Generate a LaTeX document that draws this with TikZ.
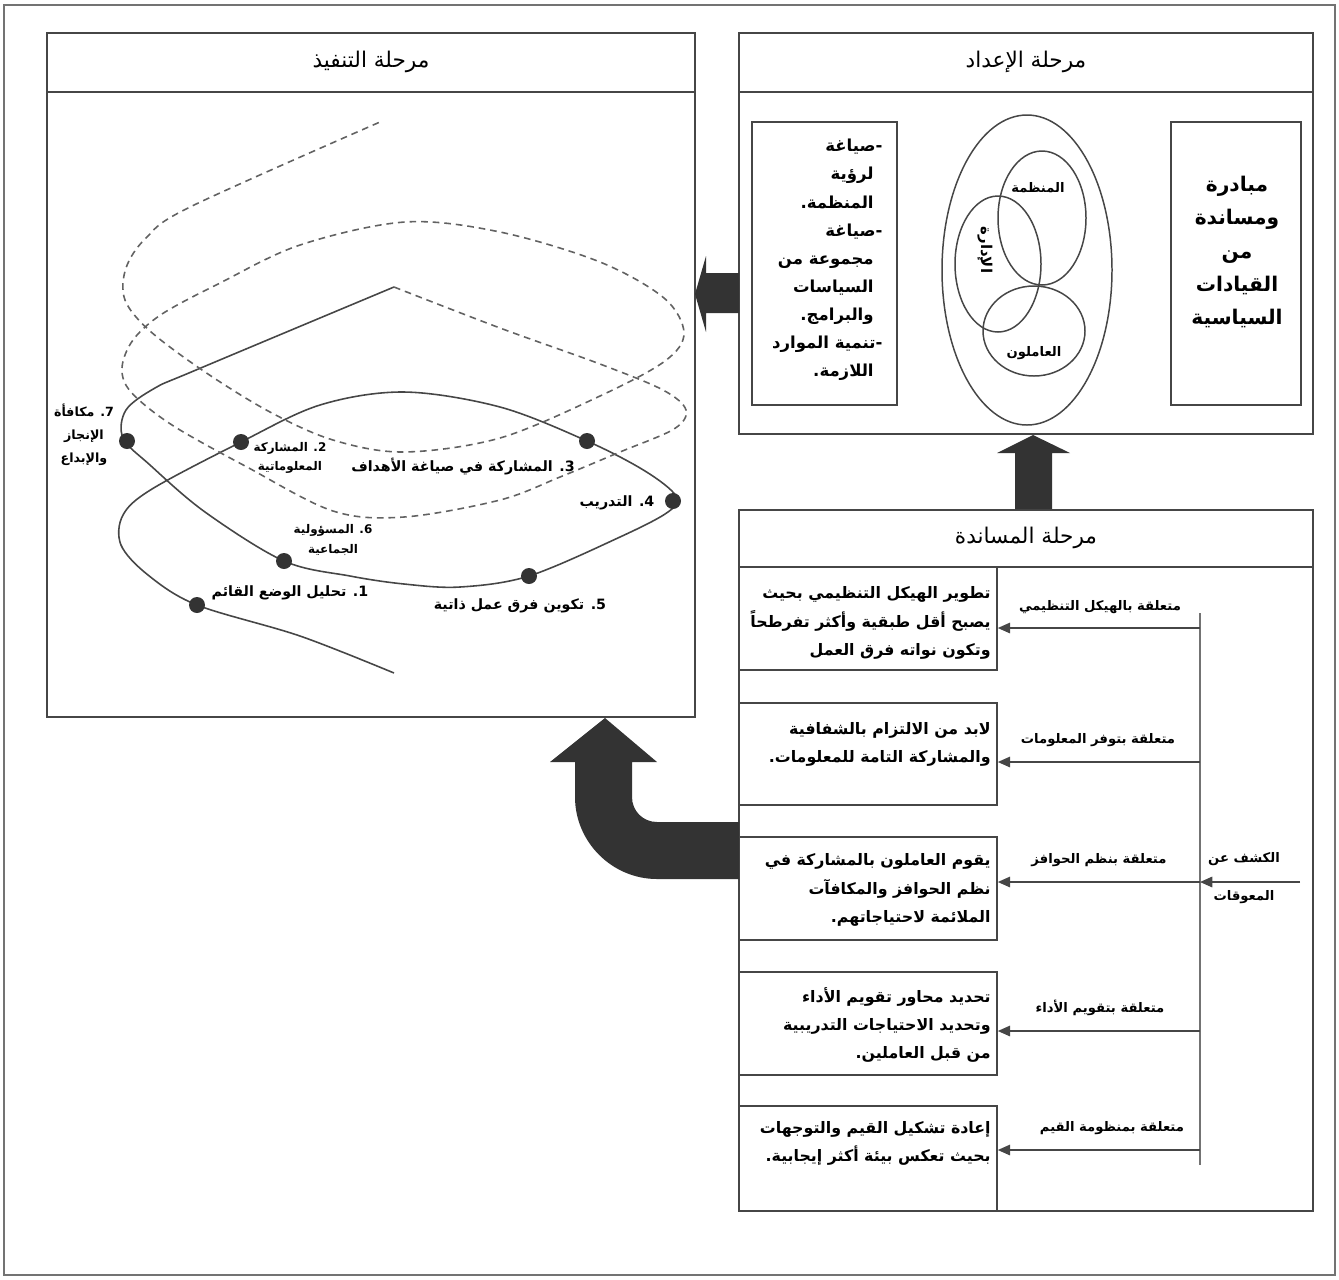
\documentclass[tikz,border=0pt]{standalone}
\usepackage{fontspec}
\TeXXeTstate=1
\newfontfamily\ar[Script=Arabic]{DejaVu Sans}
\usetikzlibrary{arrows.meta,fit}
\newcommand\RL[1]{\beginR #1\endR}
\definecolor{ln}{HTML}{464646}
\definecolor{fl}{HTML}{333333}
\begin{document}
\begin{tikzpicture}[x=0.02cm,y=-0.02cm,
  frame/.style={draw=ln, line width=0.9pt, inner sep=0pt},
  ttl/.style={font=\ar\fontsize{12.3}{14}\selectfont, inner sep=0pt},
  body/.style={font=\ar\bfseries\fontsize{9}{16}\selectfont, align=right, inner sep=0pt, anchor=east},
  rel/.style={font=\ar\bfseries\fontsize{7.5}{9}\selectfont, inner sep=0pt},
  lbl/.style={font=\ar\bfseries\fontsize{8.1}{10}\selectfont, inner sep=0pt, align=center},
  slbl/.style={font=\ar\bfseries\fontsize{6.8}{11}\selectfont, inner sep=0pt, align=center},
  dot/.style={circle, fill=fl, inner sep=0pt, minimum size=0.32cm},
  curve/.style={draw=ln, line width=0.9pt},
  dcurve/.style={draw=ln!85, line width=0.9pt, dash pattern=on 3.8pt off 2.8pt},
  conn/.style={draw=ln, line width=0.85pt},
  arr/.style={conn, -{Triangle[length=7pt,width=6pt]}},
  big/.style={fill=fl}
]
\useasboundingbox (0,0) rectangle (1339,1279);
\draw[draw=black!55, line width=0.6pt] (4,5) rectangle (1335,1275);

% ---------- execution phase ----------
\node[frame, fit={(47,33) (695,717)}] (exec) {};
\draw[frame] (exec.west |- 0,92) -- (exec.east |- 0,92);
\node[ttl] (execT) at (371,62) {\RL{مرحلة التنفيذ}};

% solid spiral
\draw[curve] plot[smooth, tension=0.55] coordinates {
 (394,673) (300,636) (197,605) (148,575) (121,545) (123,515) (152,489) (241,442)
 (320,405) (404,392) (500,407) (587,441) (645,471) (676,496) (668,512) (620,537)
 (529,576) (460,587) (404,584) (350,576) (284,561) (205,512) (150,465) (123,438)
 (126,410) (155,388) (196,370) (394,287)};
% dashed spiral
\draw[dcurve] plot[smooth, tension=0.55] coordinates {
 (394,287) (500,328) (600,364) (663,390) (686,410) (674,429) (620,452) (560,477)
 (500,500) (404,517) (333,511) (247,467) (172,425) (131,392) (122,368) (133,340)
 (162,314) (220,283) (300,245) (405,222) (500,232) (600,262) (664,298) (684,333)
 (665,361) (600,396) (500,438) (404,452) (333,440) (270,412) (205,372) (150,331)
 (125,300) (126,268) (146,238) (190,207) (380,122)};

\node[dot] (d1) at (197,605) {};
\node[dot] (d2) at (241,442) {};
\node[dot] (d3) at (587,441) {};
\node[dot] (d4) at (673,501) {};
\node[dot] (d5) at (529,576) {};
\node[dot] (d6) at (284,561) {};
\node[dot] (d7) at (127,441) {};

\node[lbl] (l1) at (290,593) {\RL{1. تحليل الوضع القائم}};
\node[slbl] (l2) at (290,458) {\RL{2. المشاركة}\\\RL{المعلوماتية}};
\node[lbl] (l3) at (463,467) {\RL{3. المشاركة في صياغة الأهداف}};
\node[lbl] (l4) at (617,503) {\RL{4. التدريب}};
\node[lbl] (l5) at (520,606) {\RL{5. تكوين فرق عمل ذاتية}};
\node[slbl] (l6) at (333,540) {\RL{6. المسؤولية}\\\RL{الجماعية}};
\node[lbl, font=\ar\bfseries\fontsize{7.2}{13}\selectfont] (l7) at (84,435) {\RL{7. مكافأة}\\\RL{الإنجاز}\\\RL{والإبداع}};

% ---------- preparation phase ----------
\node[frame, fit={(739,33) (1313,434)}] (prep) {};
\draw[frame] (prep.west |- 0,92) -- (prep.east |- 0,92);
\node[ttl] (prepT) at (1026,62) {\RL{مرحلة الإعداد}};
\node[frame, fit={(752,122) (897,405)}] (pl) {};
\node[frame, fit={(1171,122) (1301,405)}] (pr) {};
\node[body, font=\ar\bfseries\fontsize{9.4}{16}\selectfont] (plT) at (874,260) {%
 \RL{-صياغة}\kern-5pt\\\RL{لرؤية}\\\RL{المنظمة.}\\\RL{-صياغة}\kern-5pt\\\RL{مجموعة من}\\%
 \RL{السياسات}\\\RL{والبرامج.}\\\RL{-تنمية الموارد}\kern-5pt\\\RL{اللازمة.}};
\node[ttl, align=center, font=\ar\bfseries\fontsize{11.5}{19}\selectfont] (prT) at (1237,252) {%
 \RL{مبادرة}\\\RL{ومساندة}\\\RL{من}\\\RL{القيادات}\\\RL{السياسية}};
% Venn
\draw[conn] (1027,270) ellipse [x radius=85, y radius=155];
\draw[conn] (1042,218) ellipse [x radius=44, y radius=67];
\draw[conn] (998,264) ellipse [x radius=43, y radius=68];
\draw[conn] (1034,331) ellipse [x radius=51, y radius=45];
\node[rel] (vOrg) at (1038,188) {\RL{المنظمة}};
\node[rel] (vEmp) at (1034,353) {\RL{العاملون}};
\node[rel, rotate=-90, font=\ar\bfseries\fontsize{8.5}{10}\selectfont] (vAdm) at (985,250) {\RL{الإدارة}};

% ---------- support phase ----------
\node[frame, fit={(739,510) (1313,1211)}] (supp) {};
\draw[frame] (supp.west |- 0,567) -- (supp.east |- 0,567);
\node[ttl] (suppT) at (1026,538) {\RL{مرحلة المساندة}};

\node[frame, fit={(739,567) (997,670)}] (b1) {};
\node[frame, fit={(739,703) (997,805)}] (b2) {};
\node[frame, fit={(739,837) (997,940)}] (b3) {};
\node[frame, fit={(739,972) (997,1075)}] (b4) {};
\node[frame, fit={(739,1106) (997,1211)}] (b5) {};

\node[body] (t1) at (991,623) {\RL{تطوير الهيكل التنظيمي بحيث}\\\RL{يصبح أقل طبقية وأكثر تفرطحاً}\\\RL{وتكون نواته فرق العمل}};
\node[body] (t2) at (991,744) {\RL{لابد من الالتزام بالشفافية}\\\RL{والمشاركة التامة للمعلومات.}};
\node[body] (t3) at (991,890) {\RL{يقوم العاملون بالمشاركة في}\\\RL{نظم الحوافز والمكافآت}\\\RL{الملائمة لاحتياجاتهم.}};
\node[body] (t4) at (991,1025) {\RL{تحديد محاور تقويم الأداء}\\\RL{وتحديد الاحتياجات التدريبية}\\\RL{من قبل العاملين.}};
\node[body] (t5) at (991,1143) {\RL{إعادة تشكيل القيم والتوجهات}\\\RL{بحيث تعكس بيئة أكثر إيجابية.}};

\node[rel] (r1) at (1100,607) {\RL{متعلقة بالهيكل التنظيمي}};
\node[rel] (r2) at (1098,740) {\RL{متعلقة بتوفر المعلومات}};
\node[rel] (r3) at (1099,860) {\RL{متعلقة بنظم الحوافز}};
\node[rel] (r4) at (1100,1008) {\RL{متعلقة بتقويم الأداء}};
\node[rel] (r5) at (1112,1128) {\RL{متعلقة بمنظومة القيم}};
\node[rel, align=center, font=\ar\bfseries\fontsize{7.5}{22}\selectfont] (obs) at (1244,878) {\RL{الكشف عن}\\\RL{المعوقات}};

\coordinate (vtop) at (1200,613);
\coordinate (vbot) at (1200,1165);
\coordinate (v1) at (1200,628);
\coordinate (v2) at (1200,762);
\coordinate (v3) at (1200,882);
\coordinate (v4) at (1200,1031);
\coordinate (v5) at (1200,1150);
\coordinate (inp) at (1300,882);
\draw[conn, draw=black!55] (vtop) -- (vbot);
\draw[arr] (v1) -- (v1 -| b1.east);
\draw[arr] (v2) -- (v2 -| b2.east);
\draw[arr] (v3) -- (v3 -| b3.east);
\draw[arr] (v4) -- (v4 -| b4.east);
\draw[arr] (v5) -- (v5 -| b5.east);
\draw[arr] (inp) -- (v3);

% ---------- block arrows ----------
\fill[big] (739,273) -- (706,273) -- (706,256) -- (695,294) -- (706,332) -- (706,313) -- (739,313) -- cycle;
\fill[big] (1015,509) -- (1015,453) -- (997,453) -- (1033,435) -- (1070,453) -- (1052,453) -- (1052,509) -- cycle;
\fill[big] (739,822) -- (657,822) .. controls (643,822) and (632,811) .. (632,797) -- (632,762)
  -- (657,762) -- (605,718) -- (550,762) -- (575,762) -- (575,797)
  .. controls (575,842) and (612,879) .. (657,879) -- (739,879) -- cycle;
\end{tikzpicture}
\end{document}
